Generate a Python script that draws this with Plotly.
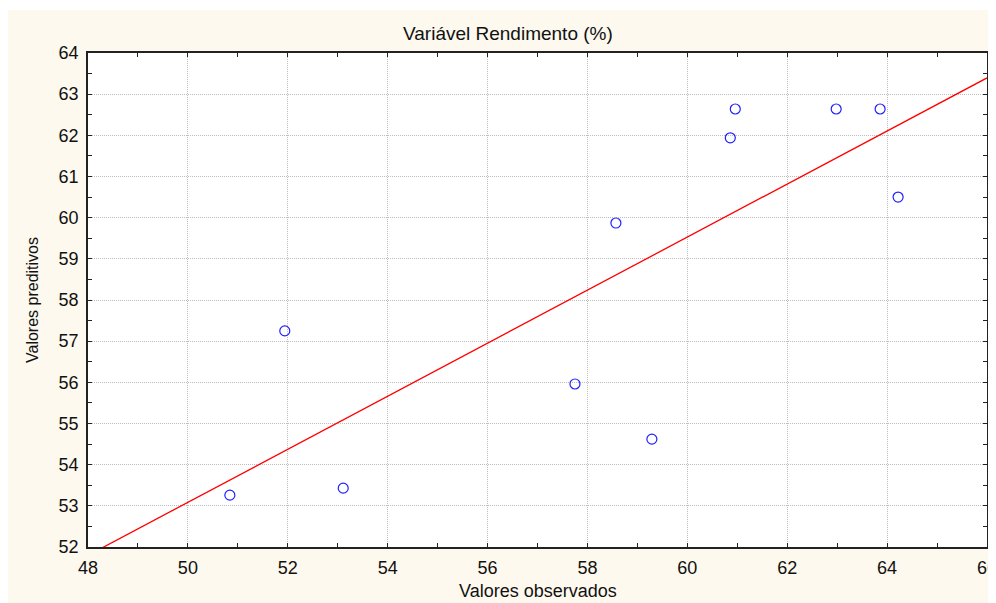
import numpy as np
import plotly.graph_objects as go

# Data
observed = [50.84, 51.94, 53.11, 57.75, 58.57, 59.29, 60.86, 60.96, 62.98, 63.86, 64.22]
predicted = [53.26, 57.25, 53.43, 55.96, 59.87, 54.62, 61.94, 62.64, 62.64, 62.64, 60.50]
x_range = [48, 66]
y_range = [52, 64]
x_ticks = [48, 50, 52, 54, 56, 58, 60, 62, 64, 66]
y_ticks = [52, 53, 54, 55, 56, 57, 58, 59, 60, 61, 62, 63, 64]

slope, intercept = np.polyfit(observed, predicted, 1)
line_x = np.array(x_range, dtype=float)
line_y = intercept + slope * line_x

FONT = "Liberation Sans, Arial, sans-serif"
CREAM = "#FDF9EF"

fig = go.Figure()
fig.add_trace(go.Scatter(x=line_x, y=line_y, mode="lines",
                         line=dict(color="#FF0000", width=1.3),
                         hoverinfo="skip", showlegend=False))
fig.add_trace(go.Scatter(x=observed, y=predicted, mode="markers",
                         marker=dict(symbol="circle-open", size=10,
                                     color="#2020FF", line=dict(width=1.2)),
                         showlegend=False, cliponaxis=False))

axis_common = dict(
    showline=True, linecolor="#222222", linewidth=1.5, mirror="ticks",
    ticks="inside", ticklen=4, tickcolor="#222222", tickwidth=1,
    showgrid=True, gridcolor="#BDBDBD", griddash="1px,1px", gridwidth=1,
    zeroline=False, tickfont=dict(family=FONT, size=18, color="#111111"),
    ticklabeloverflow="allow",
)

fig.update_xaxes(range=x_range, tickvals=x_ticks, ticklabelstandoff=4,
                 minor=dict(dtick=1, ticks="inside", ticklen=4, tickcolor="#222222", showgrid=False),
                 **axis_common)
fig.update_yaxes(range=y_range, tickvals=y_ticks, ticklabelstandoff=4,
                 minor=dict(dtick=0.5, ticks="inside", ticklen=4, tickcolor="#222222", showgrid=False),
                 **axis_common)

# page is offset by the 8px body margin
OX, OY = 8, 8
W, H = 988, 595
L, R, T, B = 88 - OX, 9, 53 - OY, 56
pw, ph = W - L - R, H - T - B

def px_x(px):
    return (px - OX - L) / pw

def px_y(py):
    return (H - B - (py - OY)) / ph

# thin white strip at the very top (cream starts at y=10 in reference)
fig.add_shape(type="rect", xref="paper", yref="paper",
              x0=px_x(0), x1=px_x(1000), y0=px_y(10), y1=px_y(0),
              fillcolor="white", line=dict(width=0), layer="below")

ann = dict(xref="paper", yref="paper", showarrow=False,
           xanchor="center", yanchor="middle")
fig.add_annotation(text="Variável Rendimento (%)", x=px_x(508), y=px_y(33),
                   font=dict(family=FONT, size=19, color="#111111"), **ann)
fig.add_annotation(text="Valores observados", x=px_x(538), y=px_y(591),
                   font=dict(family=FONT, size=18, color="#111111"), **ann)
fig.add_annotation(text="Valores preditivos", x=px_x(32), y=px_y(300), textangle=-90,
                   font=dict(family=FONT, size=16, color="#111111"), **ann)

fig.update_layout(
    width=W, height=H,
    margin=dict(l=L, r=R, t=T, b=B, autoexpand=False),
    paper_bgcolor=CREAM, plot_bgcolor="white",
    font=dict(family=FONT),
)

fig.write_html("out.html")
